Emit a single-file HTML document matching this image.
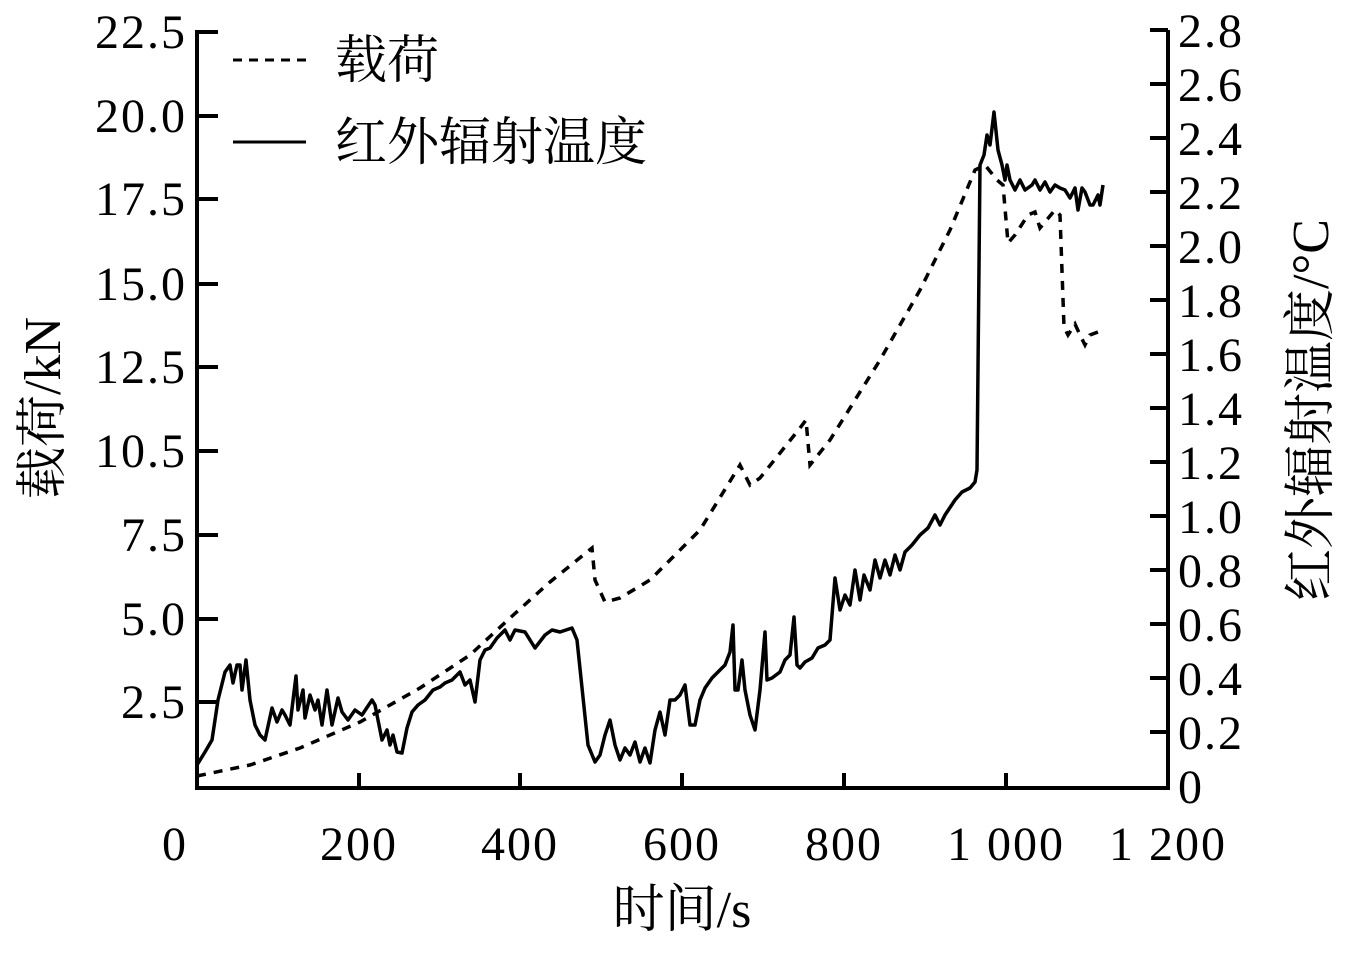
<!DOCTYPE html>
<html><head><meta charset="utf-8"><style>body{margin:0;background:#fff}</style></head><body>
<svg width="1346" height="948" viewBox="0 0 1346 948" xmlns="http://www.w3.org/2000/svg" style="font-family:'Liberation Serif','Noto Serif CJK SC',serif">
<g stroke="#000" stroke-width="4" fill="none">
<polyline points="197,30 197,788 1168,788 1168,30"/>
<path d="M197,32h21M197,116h21M197,199h21M197,284h21M197,367h21M197,451h21M197,535h21M197,619h21M197,702h21"/>
<path d="M1168,30h-18M1168,84h-18M1168,138h-18M1168,192h-18M1168,246h-18M1168,300h-18M1168,354h-18M1168,408h-18M1168,462h-18M1168,516h-18M1168,570h-18M1168,624h-18M1168,678h-18M1168,732h-18"/>
<path d="M359,788v-15M520,788v-15M682,788v-15M844,788v-15M1006,788v-15"/>
</g>
<g font-size="48" letter-spacing="2" text-anchor="end">
<text x="187" y="48">22.5</text><text x="187" y="132">20.0</text><text x="187" y="215">17.5</text><text x="187" y="300">15.0</text><text x="187" y="383">12.5</text><text x="187" y="467">10.5</text><text x="187" y="551">7.5</text><text x="187" y="635">5.0</text><text x="187" y="718">2.5</text>
</g>
<g font-size="48" letter-spacing="2" text-anchor="start">
<text x="1178" y="47">2.8</text><text x="1178" y="101">2.6</text><text x="1178" y="155">2.4</text><text x="1178" y="209">2.2</text><text x="1178" y="263">2.0</text><text x="1178" y="317">1.8</text><text x="1178" y="371">1.6</text><text x="1178" y="425">1.4</text><text x="1178" y="479">1.2</text><text x="1178" y="533">1.0</text><text x="1178" y="587">0.8</text><text x="1178" y="641">0.6</text><text x="1178" y="695">0.4</text><text x="1178" y="749">0.2</text><text x="1178" y="803">0</text>
</g>
<g font-size="48" letter-spacing="2" text-anchor="middle">
<text x="175" y="860">0</text><text x="359" y="860">200</text><text x="520" y="860">400</text><text x="682" y="860">600</text><text x="844" y="860">800</text><text x="1006" y="860">1 000</text><text x="1168" y="860">1 200</text>
</g>
<g font-size="52" text-anchor="middle">
<text x="682" y="927">时间/s</text>
<text transform="translate(60,408) rotate(-90)">载荷/kN</text>
<text transform="translate(1328,410) rotate(-90)">红外辐射温度/°C</text>
</g>
<g font-size="52"><text x="335" y="78">载荷</text><text x="335" y="160">红外辐射温度</text></g>
<line x1="233" y1="60" x2="306" y2="60" stroke="#000" stroke-width="3" stroke-dasharray="9,7"/>
<line x1="233" y1="142" x2="306" y2="142" stroke="#000" stroke-width="3"/>
<polyline fill="none" stroke="#000" stroke-width="3.5" stroke-dasharray="9,8" points="197,776 250,765 300,748 360,722 420,688 470,655 510,618 550,582 592,548 595,580 605,602 620,598 650,580 700,530 740,465 750,485 760,478 800,428 806,420 810,465 830,440 880,360 920,290 950,230 975,170 985,165 997,180 1003,185 1008,243 1015,235 1028,215 1035,212 1040,228 1055,210 1060,215 1064,327 1068,335 1075,324 1080,335 1085,345 1090,335 1103,330"/>
<polyline fill="none" stroke="#000" stroke-width="3.5" stroke-linejoin="round" points="197,765 205,752 212,740 218,700 225,672 230,665 233,683 237,665 240,665 242,690 246,660 250,700 255,725 260,735 265,740 272,708 277,722 282,710 285,715 290,725 296,676 298,710 303,690 305,718 310,695 315,710 318,700 322,725 327,690 332,725 338,698 342,712 348,720 355,710 362,715 372,700 375,705 382,740 387,730 390,745 393,735 397,752 402,753 407,728 412,712 418,705 425,700 433,690 440,687 445,683 452,680 460,672 465,685 470,680 475,702 480,660 485,650 490,648 497,638 505,630 510,640 515,630 525,632 535,648 545,635 552,630 560,632 572,628 577,640 588,745 595,762 600,755 605,735 610,720 615,745 620,760 625,748 630,755 635,742 640,762 645,748 650,763 655,730 660,712 665,735 670,700 675,700 680,695 685,685 690,725 695,725 700,700 705,688 712,678 720,670 725,665 730,652 733,625 735,690 738,690 742,660 745,690 750,715 755,730 760,690 765,632 767,680 772,678 780,672 785,660 790,655 794,617 797,665 800,668 805,662 812,658 818,648 825,645 830,640 835,578 840,610 845,595 850,605 855,570 860,600 864,575 870,590 875,560 880,578 885,560 890,575 895,555 900,570 905,552 912,545 920,535 928,528 935,515 940,525 945,515 955,500 962,492 970,488 975,482 977,470 980,165 984,155 987,135 990,145 994,112 998,150 1002,165 1005,180 1007,165 1010,180 1015,190 1020,180 1025,190 1032,185 1035,180 1040,190 1045,182 1050,192 1055,185 1060,188 1065,190 1070,198 1075,188 1078,210 1082,188 1085,192 1090,205 1093,205 1098,195 1100,205 1103,185"/>
</svg>
</body></html>
